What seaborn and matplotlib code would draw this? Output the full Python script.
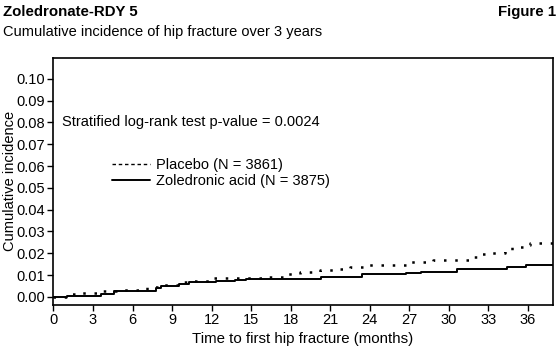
import matplotlib
matplotlib.use("Agg")
import matplotlib.pyplot as plt
from matplotlib.lines import Line2D
import seaborn as sns
import pandas as pd

# Kaplan-Meier style cumulative incidence
placebo_t = [0, 1.0, 1.3, 2.0, 3.3, 4.8, 7.1, 8.3, 9.8, 10.6, 11.9, 15.9, 17.4, 18.7,
             20.2, 21.7, 22.5, 23.5, 27.0, 28.8, 31.8, 32.3, 33.0, 34.3, 34.8, 35.9, 36.2, 37.9]
placebo_v = [0, 0.0005, 0.0012, 0.0020, 0.0026, 0.0033, 0.0044, 0.0056, 0.0066, 0.0075,
             0.0085, 0.0093, 0.0104, 0.0112, 0.0124, 0.0127, 0.0139, 0.0147, 0.0159, 0.0170,
             0.0182, 0.0196, 0.0200, 0.0216, 0.0231, 0.0239, 0.0249, 0.0249]
zol_t = [0, 1.0, 3.6, 4.6, 7.8, 8.2, 9.5, 10.3, 11.8, 12.3, 13.8, 14.6, 17.2, 20.3, 21.0,
         23.4, 26.8, 27.9, 30.6, 34.4, 35.9, 37.9]
zol_v = [0, 0.0005, 0.0014, 0.0025, 0.0040, 0.0048, 0.0059, 0.0066, 0.0070, 0.0073, 0.0078,
         0.0080, 0.0082, 0.0090, 0.0093, 0.0104, 0.0110, 0.0116, 0.0128, 0.0135, 0.0144, 0.0144]

labels = ["Placebo (N = 3861)", "Zoledronic acid (N = 3875)"]
x_ticks = list(range(0, 37, 3))
y_ticks = [i / 100 for i in range(0, 11)]

sns.set_style("ticks")
plt.rcParams["font.family"] = ["Liberation Sans", "DejaVu Sans"]
plt.rcParams["text.color"] = "black"
plt.rcParams["axes.labelcolor"] = "black"
plt.rcParams["xtick.color"] = "black"
plt.rcParams["ytick.color"] = "black"

fig = plt.figure(figsize=(5.59, 3.55), dpi=100)
ax = fig.add_axes([0.0957, 0.141, 0.893, 0.696])

df_p = pd.DataFrame({"t": placebo_t, "v": placebo_v})
df_z = pd.DataFrame({"t": zol_t, "v": zol_v})
sns.lineplot(data=df_p, x="t", y="v", ax=ax, color="black", lw=1.8,
             drawstyle="steps-post", linestyle=(0, (1, 3.5)), estimator=None)
sns.lineplot(data=df_z, x="t", y="v", ax=ax, color="black", lw=1.4,
             drawstyle="steps-post", estimator=None)

ax.set_xlim(0, 37.9)
ax.set_ylim(-0.0037, 0.1096)
ax.set_xticks(x_ticks)
ax.set_yticks(y_ticks)
ax.set_yticklabels([f"{v:.2f}" for v in y_ticks])
ax.tick_params(labelsize=10.5, length=4, width=1, direction="out", pad=2)
for s in ax.spines.values():
    s.set_visible(True)
    s.set_linewidth(1.2)
    s.set_color("black")

ax.set_xlabel("Time to first hip fracture (months)", fontsize=10.8)
ax.set_ylabel("Cumulative incidence", fontsize=10.5)
ax.yaxis.set_label_coords(-0.074, 0.5)
ax.xaxis.set_label_coords(0.5, -0.11)

ax.text(0.65, 0.080, "Stratified log-rank test p-value = 0.0024", fontsize=10.5,
        va="center", ha="left")

handles = [Line2D([], [], color="black", lw=1, linestyle=(0, (2.5, 2))),
           Line2D([], [], color="black", lw=1.4)]
ax.legend(handles, labels, loc="upper left", bbox_to_anchor=(0.118, 0.595), frameon=False,
          fontsize=10.5, handlelength=2.6, handletextpad=0.4, labelspacing=0.15,
          borderpad=0, borderaxespad=0)

fig.text(0.006, 0.985, "Zoledronate-RDY 5", fontsize=10.8, fontweight="bold", va="top")
fig.text(0.006, 0.93, "Cumulative incidence of hip fracture over 3 years", fontsize=10.5,
         va="top")
fig.text(0.994, 0.985, "Figure 1", fontsize=10.8, fontweight="bold", va="top", ha="right")

fig.savefig("out.png", dpi=100)
